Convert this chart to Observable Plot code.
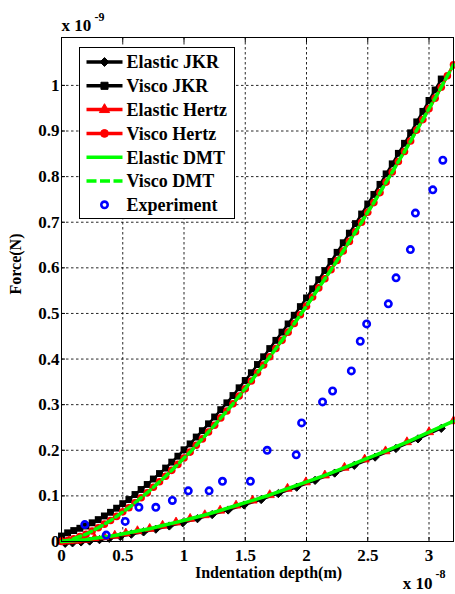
<!DOCTYPE html>
<html><head><meta charset="utf-8">
<script src="https://cdn.jsdelivr.net/npm/d3@7"></script>
<script src="https://cdn.jsdelivr.net/npm/@observablehq/plot@0.6"></script>
<style>
body{margin:0;background:#fff;}
#chart{position:relative;width:455px;height:594px;}
</style></head><body><div id="chart"></div>
<script>
// ---- data (force in units of 1e-9 N, depth in units of 1e-8 m) ----
const xTicks = [0, 0.5, 1, 1.5, 2, 2.5, 3];
const yTicks = [0, 0.1, 0.2, 0.3, 0.4, 0.5, 0.6, 0.7, 0.8, 0.9, 1];

const xVisco = [0,0.05,0.1,0.15,0.2,0.25,0.3,0.35,0.4,0.45,0.5,0.55,0.6,0.65,0.7,0.75,0.8,0.85,0.9,0.95,1,1.05,1.1,1.15,1.2,1.25,1.3,1.35,1.4,1.45,1.5,1.55,1.6,1.65,1.7,1.75,1.8,1.85,1.9,1.95,2,2.05,2.1,2.15,2.2,2.25,2.3,2.35,2.4,2.45,2.5,2.55,2.6,2.65,2.7,2.75,2.8,2.85,2.9,2.95,3,3.05,3.1,3.15,3.2];
const viscoHertz = [0,0.002,0.006,0.011,0.016,0.023,0.030,0.038,0.046,0.055,0.065,0.074,0.085,0.096,0.107,0.119,0.131,0.143,0.156,0.169,0.183,0.196,0.211,0.225,0.240,0.255,0.271,0.286,0.302,0.319,0.335,0.352,0.370,0.387,0.405,0.423,0.441,0.459,0.478,0.497,0.516,0.536,0.556,0.576,0.596,0.616,0.637,0.658,0.679,0.700,0.722,0.743,0.765,0.788,0.810,0.833,0.855,0.878,0.902,0.925,0.949,0.972,0.996,1.021,1.045];
const viscoDMT = [0,0.002,0.006,0.011,0.016,0.023,0.030,0.038,0.046,0.055,0.065,0.074,0.085,0.096,0.107,0.119,0.131,0.143,0.156,0.169,0.183,0.196,0.211,0.225,0.240,0.255,0.271,0.286,0.302,0.319,0.335,0.352,0.370,0.387,0.405,0.423,0.441,0.459,0.478,0.497,0.516,0.536,0.556,0.576,0.596,0.616,0.637,0.658,0.679,0.700,0.722,0.743,0.765,0.788,0.810,0.833,0.855,0.878,0.902,0.925,0.949,0.972,0.996,1.021,1.045];
const viscoJKR = [0.012,0.019,0.024,0.029,0.034,0.041,0.048,0.056,0.064,0.073,0.083,0.092,0.103,0.114,0.125,0.137,0.149,0.161,0.174,0.187,0.201,0.214,0.229,0.243,0.258,0.273,0.289,0.304,0.320,0.337,0.353,0.370,0.388,0.405,0.423,0.441,0.459,0.477,0.496,0.515,0.534,0.554,0.574,0.594,0.614,0.634,0.655,0.676,0.697,0.718,0.740,0.761,0.783,0.806,0.828,0.851,0.873,0.896,0.920,0.943,0.967,0.990,1.014];

const xElasticJKR = [0.03,0.09,0.16,0.23,0.31,0.39,0.48,0.57,0.67,0.77,0.88,0.99,1.11,1.23,1.36,1.49,1.63,1.77,1.92,2.07,2.23,2.39,2.56,2.73,2.91,3.1];
const elasticJKR = [-0.004,-0.003,-0.001,0.001,0.004,0.007,0.011,0.016,0.021,0.027,0.034,0.041,0.050,0.059,0.069,0.080,0.092,0.105,0.119,0.134,0.150,0.167,0.185,0.204,0.225,0.248];

const xElastic = [0,0.06,0.125,0.195,0.27,0.35,0.435,0.525,0.62,0.72,0.825,0.935,1.05,1.17,1.295,1.425,1.56,1.7,1.845,1.995,2.15,2.31,2.475,2.645,2.82,3.0,3.2];
const elasticHertz = [0,0.001,0.002,0.004,0.007,0.010,0.013,0.018,0.023,0.028,0.035,0.042,0.050,0.058,0.068,0.079,0.090,0.102,0.116,0.130,0.145,0.162,0.180,0.198,0.218,0.240,0.264];
const elasticDMT = [0,0.001,0.002,0.004,0.007,0.010,0.013,0.018,0.023,0.028,0.035,0.042,0.050,0.058,0.068,0.079,0.090,0.102,0.116,0.130,0.145,0.162,0.180,0.198,0.218,0.240,0.264];

const xExp = [0.19,0.365,0.52,0.632,0.77,0.905,1.035,1.205,1.314,1.542,1.679,1.916,1.96,2.131,2.213,2.366,2.439,2.491,2.668,2.731,2.848,2.889,3.031,3.113];
const yExp = [0.037,0.014,0.044,0.075,0.075,0.090,0.111,0.111,0.132,0.132,0.200,0.190,0.260,0.306,0.330,0.374,0.439,0.477,0.521,0.578,0.640,0.720,0.771,0.836];

const seriesNames = ["Elastic JKR","Visco JKR","Elastic Hertz","Visco Hertz","Elastic DMT","Visco DMT","Experiment"];

// ---- build tables ----
const rows = (xs, ys) => ys.map((y, i) => ({x: xs[i], y}));
const dEJKR = rows(xElasticJKR, elasticJKR);
const dVJKR = rows(xVisco, viscoJKR);
const dEH = rows(xElastic, elasticHertz);
const dVH = rows(xVisco, viscoHertz);
const dEDMT = rows(xElastic, elasticDMT);
const dVDMT = rows(xVisco, viscoDMT);
const dExp = rows(xExp, yExp);

const FONT = '"Liberation Serif","Times New Roman",serif';
const BLACK = "#000", RED = "#ff0000", GREEN = "#00ff00", BLUE = "#0000ff";
const fmt = d => String(d);
const txt = {text: d => d, fontWeight: "bold", lineAnchor: "middle"};

const plot = Plot.plot({
  width: 455, height: 594,
  marginLeft: 61, marginRight: 2, marginTop: 37, marginBottom: 53,
  style: {fontFamily: FONT, fontWeight: "bold", fontSize: "17px", color: "#000", background: "#fff"},
  x: {domain: [0, 3.2], label: null},
  y: {domain: [0, 1.105], label: null},
  marks: [
    Plot.gridX(xTicks.slice(1), {stroke: "#000", strokeOpacity: 0.85, strokeDasharray: "2.5,2.5"}),
    Plot.gridY(yTicks.slice(1), {stroke: "#000", strokeOpacity: 0.85, strokeDasharray: "2.5,2.5"}),
    // Elastic JKR
    Plot.line(dEJKR, {x: "x", y: "y", stroke: BLACK, strokeWidth: 2.5}),
    Plot.dot(dEJKR, {x: "x", y: "y", symbol: "diamond2", r: 3.7, fill: BLACK, stroke: BLACK, strokeWidth: 1}),
    // Visco JKR
    Plot.line(dVJKR, {x: "x", y: "y", stroke: BLACK, strokeWidth: 2.5}),
    Plot.dot(dVJKR, {x: "x", y: "y", symbol: "square", r: 3.9, fill: BLACK}),
    // Elastic Hertz
    Plot.line(dEH, {x: "x", y: "y", stroke: RED, strokeWidth: 2.5}),
    Plot.dot(dEH, {x: "x", y: "y", symbol: "triangle", r: 3.4, fill: RED, stroke: RED, strokeWidth: 0.8}),
    // Visco Hertz
    Plot.line(dVH, {x: "x", y: "y", stroke: RED, strokeWidth: 3}),
    Plot.dot(dVH, {x: "x", y: "y", symbol: "circle", r: 3.8, fill: RED}),
    // Elastic DMT
    Plot.line(dEDMT, {x: "x", y: "y", stroke: GREEN, strokeWidth: 3.5}),
    // Visco DMT
    Plot.line(dVDMT, {x: "x", y: "y", stroke: GREEN, strokeWidth: 3.5, strokeDasharray: "8,4"}),
    // Experiment
    Plot.dot(dExp, {x: "x", y: "y", r: 3.2, stroke: BLUE, strokeWidth: 2.6, fill: "none"}),
    Plot.frame({stroke: "#000", strokeWidth: 1}),
    Plot.axisX(xTicks, {anchor: "bottom", tickSize: 0, tickPadding: 7, tickFormat: fmt, label: null, fontSize: 17}),
    Plot.axisY(yTicks, {anchor: "left", tickSize: 0, tickPadding: 2, tickFormat: fmt, label: null, fontSize: 17}),
    Plot.axisX(xTicks, {anchor: "bottom", tickSize: -4, tickFormat: () => "", label: null}),
    Plot.axisX(xTicks, {anchor: "top", tickSize: -4, tickFormat: () => "", label: null}),
    Plot.axisY(yTicks, {anchor: "left", tickSize: -4, tickFormat: () => "", label: null}),
    Plot.axisY(yTicks, {anchor: "right", tickSize: -4, tickFormat: () => "", label: null}),
    Plot.text(["Force(N)"], {...txt, frameAnchor: "left", dx: -46, dy: 5, rotate: -90, fontSize: 16}),
    Plot.text(["Indentation depth(m)"], {...txt, frameAnchor: "bottom", dx: 11, dy: 31, fontSize: 16}),
    Plot.text(["x 10"], {...txt, frameAnchor: "top-left", textAnchor: "start", dx: 0, dy: -12, fontSize: 17}),
    Plot.text(["-9"], {...txt, frameAnchor: "top-left", textAnchor: "start", dx: 33, dy: -20, fontSize: 12}),
    Plot.text(["x 10"], {...txt, frameAnchor: "bottom-right", textAnchor: "end", dx: -21, dy: 42, fontSize: 17}),
    Plot.text(["-8"], {...txt, frameAnchor: "bottom-right", textAnchor: "start", dx: -18, dy: 33, fontSize: 12})
  ]
});
document.getElementById("chart").appendChild(plot);

// ---- legend (drawn inside the axes, top-left) ----
const legendStyles = [
  {color: BLACK, line: true, symbol: d3.symbolDiamond2, size: Math.PI * 4 * 4},
  {color: BLACK, line: true, symbol: d3.symbolSquare, size: Math.PI * 4 * 4},
  {color: RED, line: true, symbol: d3.symbolTriangle, size: Math.PI * 3.8 * 3.8},
  {color: RED, line: true, symbol: d3.symbolCircle, size: Math.PI * 3.9 * 3.9},
  {color: GREEN, line: true, symbol: null},
  {color: GREEN, line: true, symbol: null, dash: "10,3.5"},
  {color: BLUE, line: false, symbol: "ring"}
];
const svg = d3.select(plot);
const lg = svg.append("g").attr("transform", "translate(79.5,47.5)").attr("text-anchor", "start");
lg.append("rect").attr("width", 155).attr("height", 171).attr("fill", "#fff").attr("stroke", "#000").attr("stroke-width", 1);
seriesNames.forEach((name, i) => {
  const st = legendStyles[i];
  const cy = 14.5 + i * 23.8;
  const g = lg.append("g").attr("transform", `translate(0,${cy})`);
  if (st.line) {
    g.append("line").attr("x1", 7).attr("x2", 43).attr("y1", 0).attr("y2", 0)
      .attr("stroke", st.color).attr("stroke-width", 3.5)
      .attr("stroke-dasharray", st.dash || null);
  }
  if (st.symbol === "ring") {
    g.append("circle").attr("cx", 25).attr("cy", 0).attr("r", 3.2).attr("fill", "none").attr("stroke", st.color).attr("stroke-width", 2.6);
  } else if (st.symbol) {
    g.append("path").attr("transform", "translate(25,0)").attr("d", d3.symbol(st.symbol, st.size)()).attr("fill", st.color).attr("stroke", st.color).attr("stroke-width", 1);
  }
  g.append("text").attr("x", 47).attr("y", 0).attr("dy", "0.35em").attr("text-anchor", "start")
    .attr("font-family", FONT).attr("font-weight", "bold").attr("font-size", 18).attr("fill", "#000")
    .text(name);
});
</script>
</body></html>
